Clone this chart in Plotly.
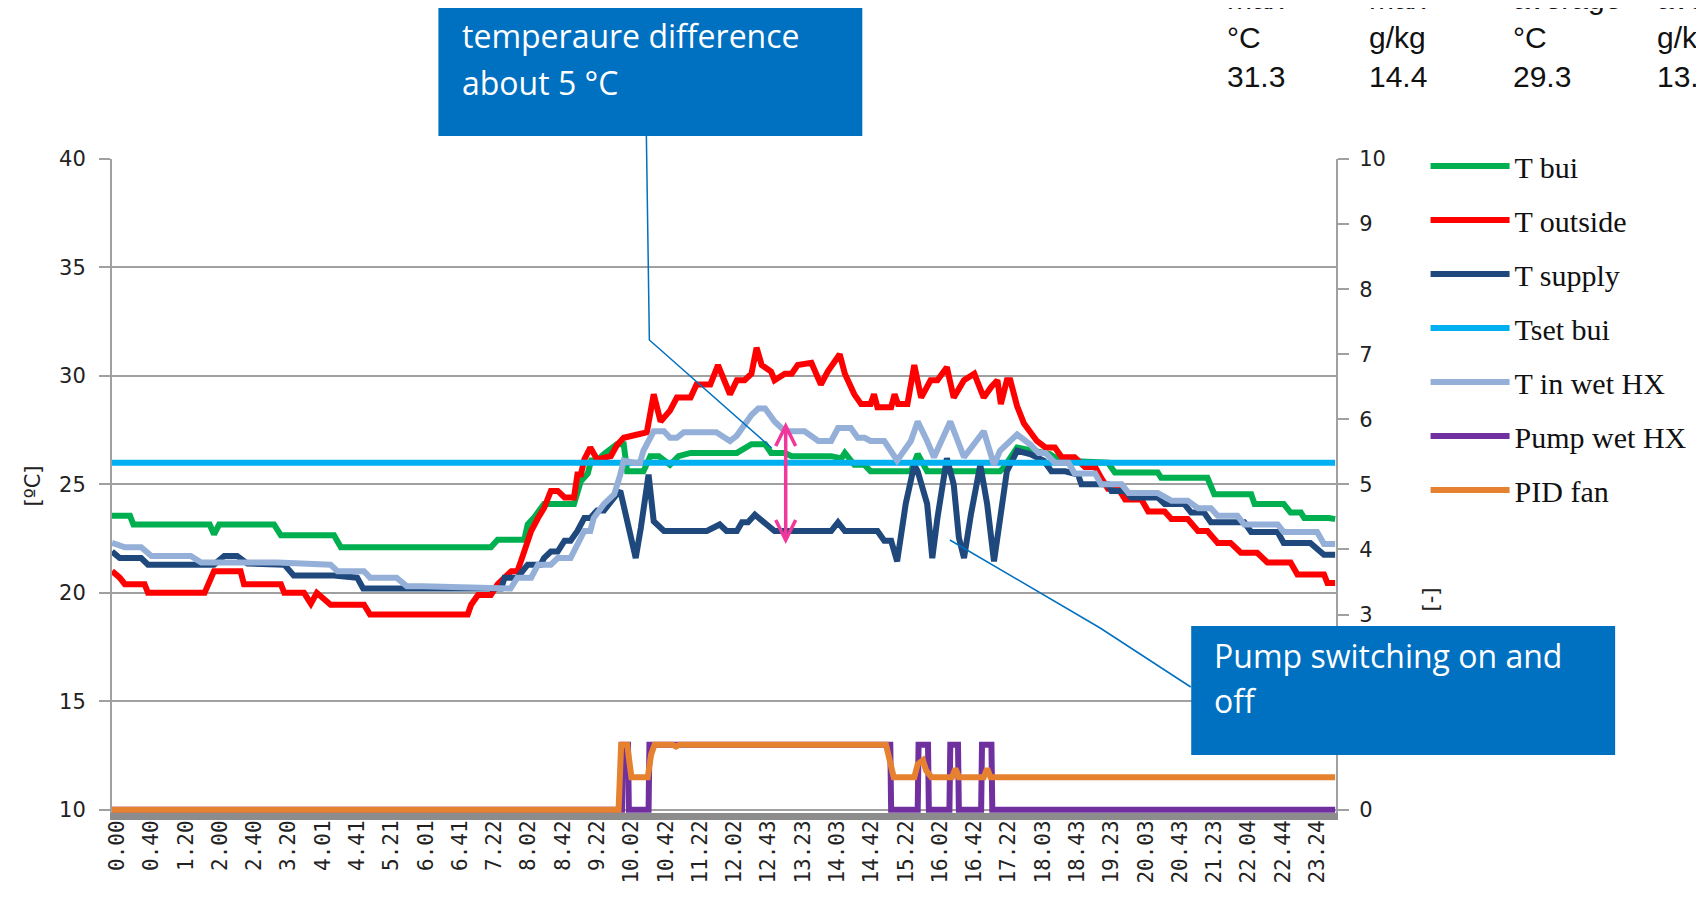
import plotly.graph_objects as go

# ---------------- data ----------------
time_labels = ["0.00", "0.40", "1.20", "2.00", "2.40", "3.20", "4.01", "4.41", "5.21", "6.01",
               "6.41", "7.22", "8.02", "8.42", "9.22", "10.02", "10.42", "11.22", "12.02", "12.43",
               "13.23", "14.03", "14.42", "15.22", "16.02", "16.42", "17.22", "18.03", "18.43", "19.23",
               "20.03", "20.43", "21.23", "22.04", "22.44", "23.24"]
label_samples = [40 * i for i in range(len(time_labels))]   # sample index of each time label

t_bui_x = [-6, 15, 19, 108, 113, 119, 183, 191, 253, 261, 351, 436, 444, 475, 479, 487, 498, 533, 541, 549,
           553, 560, 568, 583, 591, 595, 614, 622, 632, 645, 655, 669, 723, 732, 740, 756, 763, 779, 787, 833,
           845, 849, 860, 872, 879, 926, 934, 945, 1030, 1035, 1050, 1088, 1100, 1156, 1164, 1214, 1218, 1272, 1280, 1323,
           1327, 1361, 1369, 1381, 1385, 1414, 1421]
t_bui_y = [23.55, 23.55, 23.15, 23.15, 22.7, 23.15, 23.15, 22.65, 22.65, 22.1, 22.1, 22.1, 22.45, 22.45, 23.15, 23.5, 24.1, 24.1, 25.15, 25.5,
           26.1, 26.1, 26.4, 26.85, 26.85, 25.6, 25.6, 26.3, 26.3, 25.9, 26.3, 26.45, 26.45, 26.7, 26.85, 26.85, 26.45, 26.45, 26.3, 26.3,
           26.2, 26.45, 25.9, 25.9, 25.6, 25.6, 26.4, 25.6, 25.6, 25.8, 26.7, 26.4, 26.1, 26.0, 25.55, 25.55, 25.3, 25.3, 24.55, 24.55,
           24.1, 24.1, 23.7, 23.7, 23.45, 23.45, 23.4]

t_out_x = [-6, 3, 9, 32, 36, 102, 113, 144, 148, 191, 195, 218, 226, 233, 249, 288, 295, 357,
           409, 413, 421, 436, 444, 460, 467, 471, 475, 483, 491, 498, 506, 514, 522, 533, 537, 541, 545, 552, 560, 576,
           583, 591, 607, 618, 626, 634, 645, 653, 669, 676, 692, 701, 715, 723,
           732, 740, 746, 752, 763, 767, 779, 787, 794, 810, 821, 829, 843, 849, 860, 868, 879, 883, 887, 903,
           907, 911, 922, 930, 938, 949, 957, 968, 976, 988, 1000, 1011, 1020, 1027, 1031, 1038, 1042, 1050, 1058, 1065, 1073,
           1083, 1094, 1102, 1117, 1129, 1141, 1148, 1156, 1168, 1176, 1195, 1203, 1222, 1230, 1249, 1261, 1272, 1284, 1299,
           1311, 1330, 1342, 1369, 1377, 1408, 1412, 1421]
t_out_y = [21.0, 20.7, 20.4, 20.4, 20.0, 20.0, 21.0, 21.0, 20.4, 20.4, 20.0, 20.0, 19.5, 20.0, 19.45, 19.45, 19.0, 19.0,
           19.0, 19.45, 19.9, 19.9, 20.4, 21.0, 21.0, 21.45, 21.9, 22.85, 23.45, 23.9, 24.7, 24.7, 24.4, 24.4, 25.45, 25.45, 26.15, 26.7, 26.15, 26.3,
           26.8, 27.15, 27.3, 27.4, 29.15, 27.9, 28.4, 29.0, 29.0, 29.6, 29.6, 30.5, 29.15, 29.8,
           29.8, 30.1, 31.3, 30.5, 30.2, 29.8, 30.1, 30.1, 30.5, 30.6, 29.6, 30.2, 31.0, 30.1, 29.15, 28.7, 28.7, 29.15, 28.55, 28.55,
           29.15, 28.7, 28.7, 30.5, 29.0, 29.8, 29.8, 30.4, 29.0, 29.8, 30.1, 29.0, 29.5, 29.8, 28.7, 29.8, 29.8, 28.6, 27.8, 27.45, 27.0,
           26.7, 26.7, 26.25, 26.25, 25.8, 25.8, 25.3, 24.8, 24.8, 24.3, 24.3, 23.75, 23.75, 23.4, 23.4, 22.85, 22.85, 22.3, 22.3,
           21.85, 21.85, 21.4, 21.4, 20.85, 20.85, 20.45, 20.45]

t_sup_x = [-6, 3, 28, 36, 113, 125, 140, 152, 195, 206, 253, 280, 287, 357,
           448, 452, 467, 475, 479, 494, 498, 506, 514, 522, 529, 537, 545, 552, 560, 568, 576, 583, 587, 599, 605, 611, 620, 626, 638, 688, 703, 711,
           723, 729, 736, 744, 756, 767, 833, 841, 849, 887, 895, 903, 910, 920, 930, 934, 945, 951, 957, 968, 976, 982, 988, 996, 1007, 1015, 1023,
           1030, 1038, 1050, 1065, 1081,
           1090, 1106, 1121, 1125, 1156, 1160, 1176, 1183, 1214, 1222, 1245, 1253, 1268, 1276, 1315, 1323, 1354, 1361, 1392, 1408, 1421]
t_sup_y = [21.9, 21.6, 21.6, 21.3, 21.3, 21.7, 21.7, 21.35, 21.3, 20.8, 20.8, 20.7, 20.2, 20.2,
           20.2, 20.7, 20.7, 21.1, 21.3, 21.3, 21.6, 21.9, 21.9, 22.4, 22.4, 22.85, 23.45, 23.45, 23.8, 23.8, 24.25, 24.55, 24.7, 22.55, 21.6, 23.0, 25.45, 23.3, 22.85, 22.85, 23.15, 22.85,
           22.85, 23.25, 23.25, 23.6, 23.25, 22.85, 22.85, 23.25, 22.85, 22.85, 22.4, 22.4, 21.45, 24.1, 25.9, 25.6, 24.1, 21.6, 23.45, 26.2, 25.0, 22.55, 21.6, 23.6, 25.9, 24.1, 21.45,
           23.6, 25.6, 26.55, 26.4, 26.1,
           25.6, 25.6, 25.45, 25.0, 25.0, 24.7, 24.7, 24.4, 24.4, 24.1, 24.1, 23.7, 23.7, 23.25, 23.25, 22.8, 22.8, 22.3, 22.3, 21.75, 21.75]

t_set_x = [-6, 1421]
t_set_y = [26.0, 26.0]

t_hx_x = [-6, 9, 28, 40, 86, 98, 187, 249, 257, 288, 295, 326, 338, 357,
          459, 467, 483, 491, 506, 514, 529, 537, 545, 552, 556, 568, 580, 587, 591, 603, 610, 614, 626, 638, 645, 653, 661, 699, 715, 723,
          740, 748, 756, 767, 779, 802, 818, 833, 841, 856, 864, 872, 879, 895, 903, 910, 926, 934, 945, 953, 972, 988, 1011, 1023, 1030, 1050, 1065,
          1075, 1083, 1094, 1110, 1117, 1141, 1148, 1172, 1180, 1214, 1230, 1249, 1261, 1276, 1284, 1307, 1315, 1354, 1361, 1400, 1408, 1421]
t_hx_y = [22.3, 22.1, 22.1, 21.7, 21.7, 21.4, 21.4, 21.3, 21.0, 21.0, 20.7, 20.7, 20.3, 20.3,
          20.2, 20.7, 20.7, 21.3, 21.3, 21.6, 21.6, 22.2, 22.85, 22.85, 23.45, 24.1, 24.55, 25.45, 26.1, 26.0, 26.0, 26.55, 27.45, 27.45, 27.15, 27.15, 27.4, 27.4, 27.0, 27.25,
          28.2, 28.5, 28.5, 27.9, 27.45, 27.45, 27.0, 27.0, 27.6, 27.6, 27.15, 27.15, 27.0, 27.0, 26.55, 26.1, 27.0, 27.9, 27.0, 26.25, 27.9, 26.25, 27.45, 25.9, 26.55, 27.3, 26.85,
          26.45, 26.45, 26.0, 26.0, 25.5, 25.5, 25.0, 25.0, 24.6, 24.6, 24.25, 24.25, 23.9, 23.9, 23.55, 23.55, 23.15, 23.15, 22.8, 22.8, 22.25, 22.25]

pump_x = [-6, 589, 590, 596, 597, 620, 621, 902, 903, 934, 935, 946, 947, 971, 972, 981, 982, 1008, 1009, 1020, 1021, 1421]
pump_y = [0, 0, 1, 1, 0, 0, 1, 1, 0, 0, 1, 1, 0, 0, 1, 1, 0, 0, 1, 1, 0, 0]

pid_x = [-6, 585, 588, 595, 600, 619, 623, 627, 648, 652, 656, 897, 906, 930, 934, 940, 944, 950, 974, 978, 982, 1011, 1015, 1019, 1421]
pid_y = [0, 0, 1, 1, 0.5, 0.5, 0.85, 1, 1, 0.97, 1, 1, 0.5, 0.5, 0.7, 0.76, 0.6, 0.5, 0.5, 0.63, 0.5, 0.5, 0.63, 0.5, 0.5]

table_cols = [("max", "°C", "31.3"), ("max", "g/kg", "14.4"), ("average", "°C", "29.3"), ("average", "g/kg", "13.")]

# ---------------- figure ----------------
# the page body adds an 8 px margin, so the figure is sized and placed to land on page pixels
OFF = 8
W, H = 1704 - OFF, 899 - OFF
PL, PR, PT, PB = 112, 1342, 159, 813          # plot area in page pixels
PW, PH = PR - PL, PB - PT


def px(x):
    return (x - PL) / PW


def py(y):
    return (PB - y) / PH


fig = go.Figure()
series = [
    ("T bui", t_bui_x, t_bui_y, "#00B050", "y"),
    ("T outside", t_out_x, t_out_y, "#FF0000", "y"),
    ("T supply", t_sup_x, t_sup_y, "#1F497D", "y"),
    ("Tset bui", t_set_x, t_set_y, "#00B0F0", "y"),
    ("T in wet HX", t_hx_x, t_hx_y, "#95B0D8", "y"),
    ("Pump wet HX", pump_x, pump_y, "#7030A0", "y2"),
    ("PID fan", pid_x, pid_y, "#E6822F", "y2"),
]
for name, xs, ys, col, ax in series:
    fig.add_trace(go.Scatter(x=xs, y=ys, name=name, mode="lines", yaxis=ax, legendgroup=name,
                             line=dict(color=col, width=6), hoverinfo="skip"))

grid = "#A0A0A0"
fig.update_layout(
    width=W, height=H, autosize=False,
    paper_bgcolor="white", plot_bgcolor="white",
    margin=dict(l=PL - OFF, r=W - (PR - OFF), t=PT - OFF, b=H - (PB - OFF), pad=0),
    xaxis=dict(range=[-6, 1422], tickmode="array", tickvals=label_samples, ticktext=time_labels,
               tickangle=-90, showgrid=False, zeroline=False, showline=True, linecolor="#8C8C8C", linewidth=7,
               ticks="", ticklabelstandoff=-8, tickfont=dict(family="DejaVu Sans Mono", size=21, color="#222")),
    yaxis=dict(range=[9.85, 40], tick0=10, dtick=5, showgrid=True, gridcolor=grid, gridwidth=2, zeroline=False,
               showline=True, linecolor=grid, linewidth=2, ticks="outside", ticklen=11, tickcolor=grid, tickwidth=2,
               ticklabelstandoff=9, tickfont=dict(family="DejaVu Sans", size=21, color="#222")),
    yaxis2=dict(range=[-0.05, 10], tick0=0, dtick=1, overlaying="y", side="right", showgrid=False, zeroline=False,
                showline=True, linecolor=grid, linewidth=2, ticks="outside", ticklen=11, tickcolor=grid, tickwidth=2,
                ticklabelstandoff=6, tickfont=dict(family="DejaVu Sans", size=21, color="#222")),
    legend=dict(x=px(1432), xanchor="left", y=py(140), yanchor="top", traceorder="grouped", tracegroupgap=12,
                itemwidth=79, font=dict(family="Liberation Serif", size=30, color="#111"),
                bgcolor="rgba(0,0,0,0)", borderwidth=0),
    showlegend=True,
)

blue = "#0070C0"
pink = "#F0379B"
shapes = [
    dict(type="rect", xref="paper", yref="paper", x0=px(440), x1=px(866), y0=py(136), y1=py(5),
         fillcolor=blue, line=dict(width=0), layer="above"),
    dict(type="rect", xref="paper", yref="paper", x0=px(1196.5), x1=px(1622.5), y0=py(755), y1=py(626),
         fillcolor=blue, line=dict(width=0), layer="above"),
    dict(type="path", xref="paper", yref="paper", layer="above",
         path=f"M{px(649)},{py(136)} L{px(652)},{py(340)} L{px(775)},{py(448)}",
         line=dict(color=blue, width=1.5)),
    dict(type="path", xref="paper", yref="paper", layer="above",
         path=f"M{px(954)},{py(540)} L{px(1105)},{py(628)} L{px(1196)},{py(687)}",
         line=dict(color=blue, width=1.5)),
    dict(type="path", xref="paper", yref="paper", layer="above",
         path=f"M{px(789)},{py(426)} L{px(789)},{py(540)}", line=dict(color=pink, width=3.5)),
    dict(type="path", xref="paper", yref="paper", layer="above",
         path=f"M{px(779)},{py(446)} L{px(789)},{py(426)} L{px(799)},{py(446)}", line=dict(color=pink, width=3.5)),
    dict(type="path", xref="paper", yref="paper", layer="above",
         path=f"M{px(779)},{py(520)} L{px(789)},{py(540)} L{px(799)},{py(520)}", line=dict(color=pink, width=3.5)),
]
fig.update_layout(shapes=shapes)

box_font = dict(family="Open Sans", size=32, color="white")
ann = [
    dict(text="temperaure difference", x=px(462), y=py(36)),
    dict(text="about 5 °C", x=px(462), y=py(82)),
    dict(text="Pump switching on and", x=px(1217), y=py(655)),
    dict(text="off", x=px(1217), y=py(700)),
]
annotations = []
for a in ann:
    annotations.append(dict(text=a["text"], x=a["x"], y=a["y"], xref="paper", yref="paper", xanchor="left",
                            yanchor="middle", showarrow=False, font=box_font))
col_x = [1230, 1373, 1518, 1663]
for cx, (r1, r2, r3) in zip(col_x, table_cols):
    annotations.append(dict(text=f"{r1}<br>{r2}<br>{r3}", x=px(cx), y=py(-20), xref="paper", yref="paper",
                            xanchor="left", yanchor="top", align="left", showarrow=False,
                            font=dict(family="Liberation Sans Narrow, Liberation Sans", size=30, color="#111")))
annotations.append(dict(text="[ºC]", x=px(33), y=py(486), xref="paper", yref="paper", showarrow=False,
                        xanchor="center", yanchor="middle",
                        textangle=-90, font=dict(family="DejaVu Sans", size=21, color="#222")))
annotations.append(dict(text="[-]", x=px(1437), y=py(600), xref="paper", yref="paper", showarrow=False,
                        xanchor="center", yanchor="middle",
                        textangle=-90, font=dict(family="DejaVu Sans", size=21, color="#222")))
fig.update_layout(annotations=annotations)

fig.write_html("out.html")
